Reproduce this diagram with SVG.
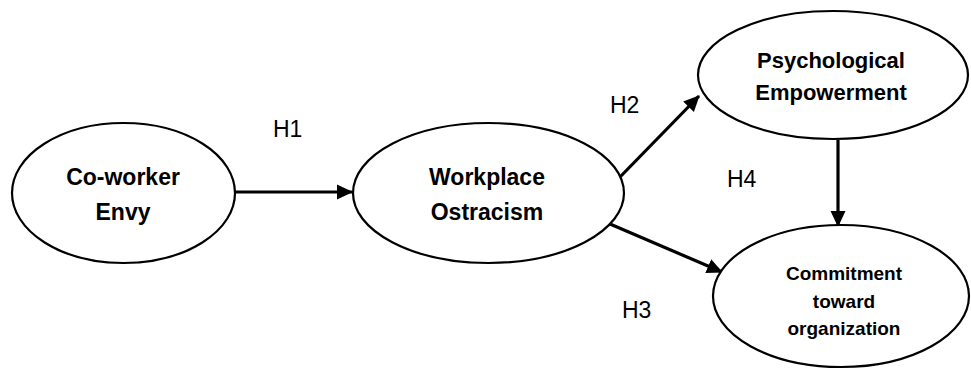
<svg xmlns="http://www.w3.org/2000/svg" width="971" height="369" viewBox="0 0 971 369">
<style>
.node ellipse{fill:#fff;stroke:#000;stroke-width:2.2}
.lbl{font-family:"Liberation Sans",Arial,sans-serif;font-weight:bold;fill:#000;text-anchor:middle}
.h{font-family:"Liberation Sans",Arial,sans-serif;font-size:23px;fill:#000}
.conn line{stroke:#000;stroke-width:3.2}
</style>
<defs>
<marker id="ah" viewBox="0 0 16 16" refX="15" refY="8" markerWidth="16" markerHeight="16" markerUnits="userSpaceOnUse" orient="auto">
<path d="M0,0.5 L16,8 L0,15.5 Z" fill="#000"/>
</marker>
</defs>
<rect width="971" height="369" fill="#fff"/>
<g id="connectors" class="conn">
<line x1="235" y1="192" x2="352" y2="192" marker-end="url(#ah)"/>
<line x1="620" y1="177" x2="699" y2="96" marker-end="url(#ah)"/>
<line x1="610" y1="224" x2="722" y2="272" marker-end="url(#ah)"/>
<line x1="838" y1="140" x2="838" y2="226" marker-end="url(#ah)"/>
</g>
<g id="node-envy" class="node">
<ellipse cx="123.5" cy="193" rx="111.5" ry="70"/>
<text class="lbl" x="123" y="185" font-size="23">Co-worker</text>
<text class="lbl" x="123" y="220" font-size="23">Envy</text>
</g>
<g id="node-ostracism" class="node">
<ellipse cx="488.5" cy="193" rx="135.5" ry="70"/>
<text class="lbl" x="487" y="185" font-size="23">Workplace</text>
<text class="lbl" x="487" y="220" font-size="23">Ostracism</text>
</g>
<g id="node-empowerment" class="node">
<ellipse cx="833" cy="75" rx="135" ry="64"/>
<text class="lbl" x="831" y="68" font-size="22">Psychological</text>
<text class="lbl" x="831" y="100" font-size="22">Empowerment</text>
</g>
<g id="node-commitment" class="node">
<ellipse cx="841" cy="296" rx="128" ry="71"/>
<text class="lbl" x="844" y="280" font-size="19">Commitment</text>
<text class="lbl" x="844" y="308" font-size="19">toward</text>
<text class="lbl" x="844" y="335" font-size="19">organization</text>
</g>
<g id="labels">
<text class="h" x="273" y="137">H1</text>
<text class="h" x="610" y="113">H2</text>
<text class="h" x="622" y="318">H3</text>
<text class="h" x="727" y="187">H4</text>
</g>
</svg>
